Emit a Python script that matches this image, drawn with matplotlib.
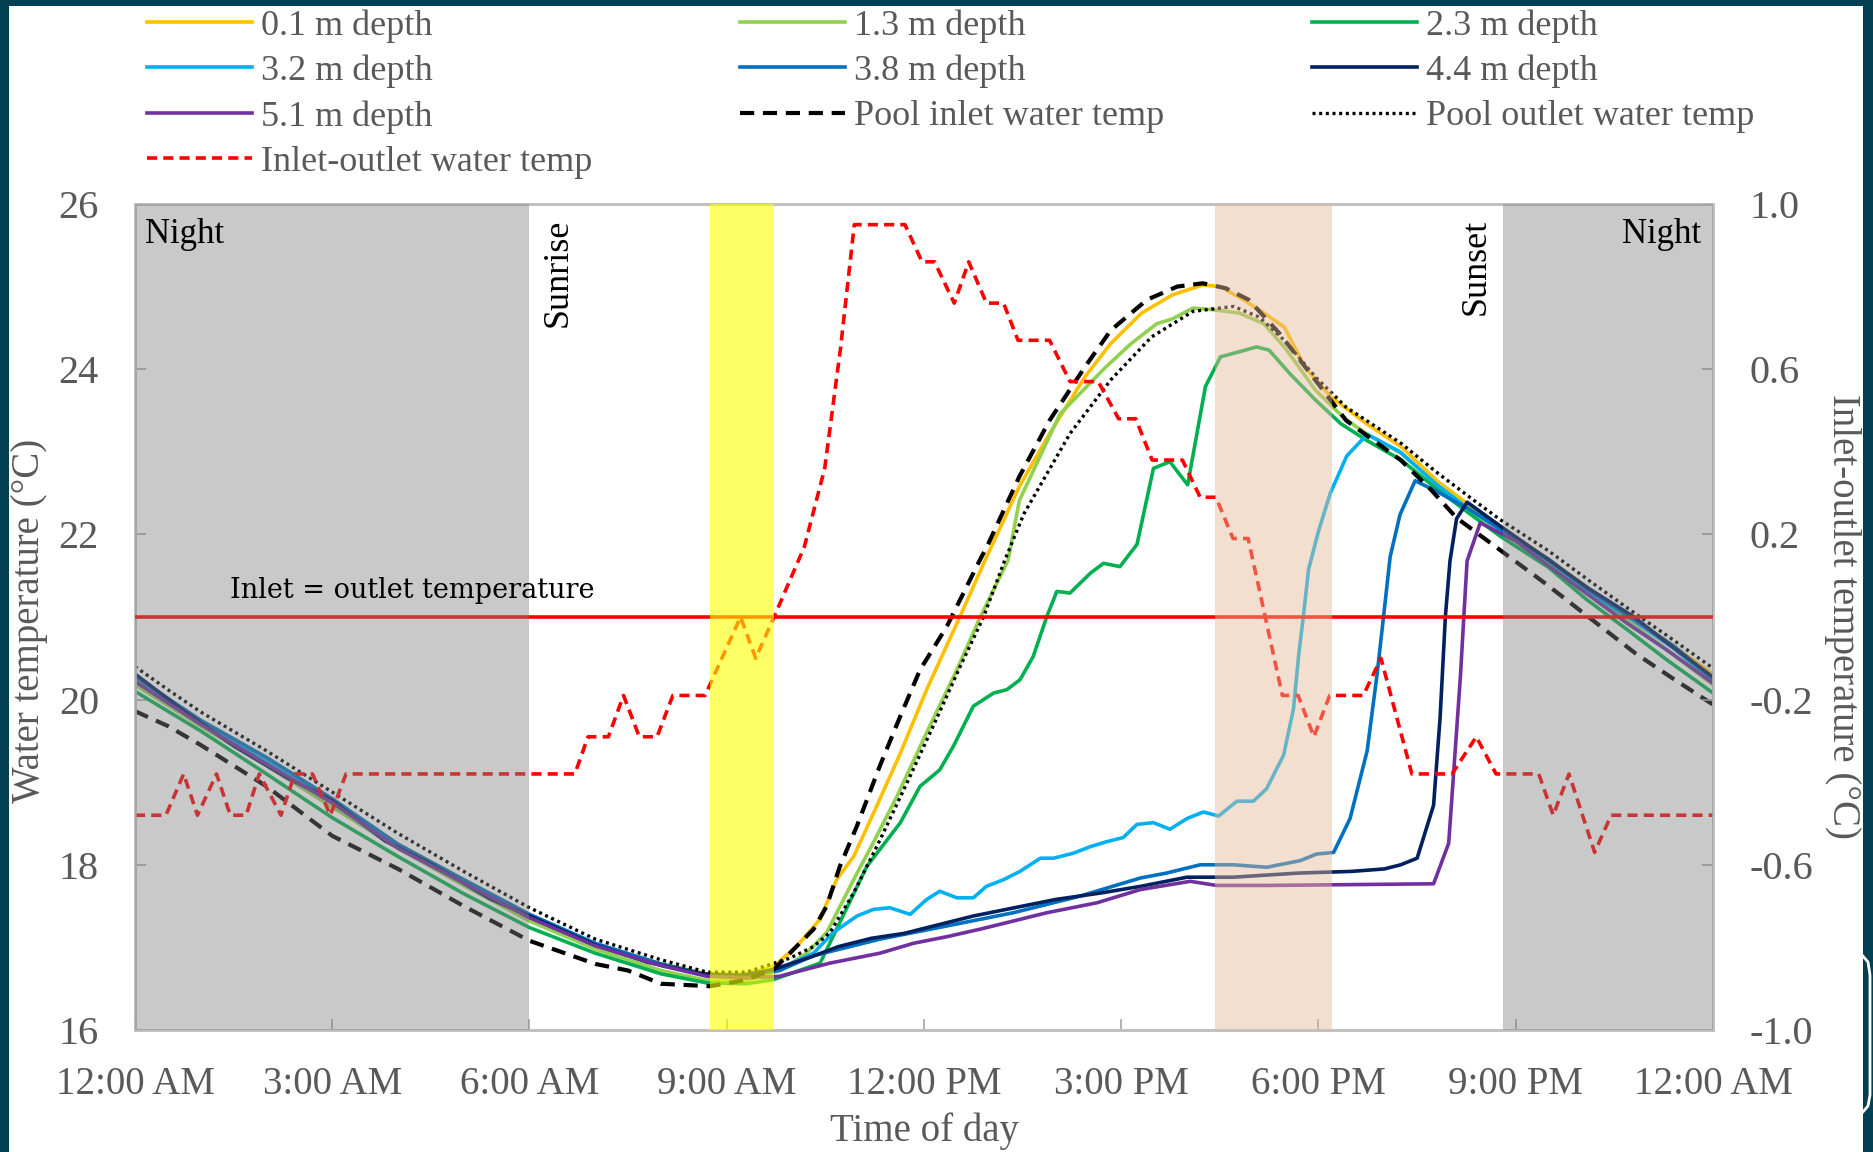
import matplotlib
matplotlib.use("Agg")
import matplotlib.pyplot as plt
from matplotlib.patches import Rectangle
from matplotlib.lines import Line2D

# ---- data (hours after midnight, water temperature in degC) ----
hour_ticks = [0, 3, 6, 9, 12, 15, 18, 21, 24]
hour_labels = ["12:00 AM", "3:00 AM", "6:00 AM", "9:00 AM", "12:00 PM",
               "3:00 PM", "6:00 PM", "9:00 PM", "12:00 AM"]

t_01 = [0, 1, 2, 3, 4, 5, 6, 7, 8, 8.7, 9.3, 9.71, 10.06, 10.42, 10.67, 10.93,
        11.28, 11.64, 12.04, 12.55, 12.93, 13.45, 13.91, 14.45, 14.84, 15.31,
        15.78, 16.24, 16.51, 16.86, 17.17, 17.48, 17.79, 18.18, 18.73, 19.26,
        19.8, 20.3, 20.8, 21.5, 22.1, 22.8, 23.4, 24.0]
T_01 = [20.25, 19.75, 19.28, 18.78, 18.25, 17.82, 17.4, 17.04, 16.8, 16.68,
        16.68, 16.77, 17.01, 17.34, 17.82, 18.1, 18.71, 19.35, 20.12, 21.01,
        21.69, 22.58, 23.22, 23.91, 24.31, 24.68, 24.9, 25.02, 25.0, 24.84,
        24.68, 24.51, 24.03, 23.67, 23.34, 23.06, 22.65, 22.35, 22.08, 21.7,
        21.35, 20.98, 20.65, 20.3]

t_13 = [0, 1, 2, 3, 4, 5, 6, 7, 8, 8.7, 9.3, 9.81, 10.2, 10.52, 10.93, 11.23,
        11.59, 12.04, 12.5, 12.85, 13.28, 13.45, 14.07, 14.77, 15.15, 15.54,
        15.78, 16.09, 16.4, 16.79, 17.17, 17.5, 17.95, 18.4, 18.73, 19.26,
        19.8, 20.3, 20.8, 21.5, 22.1, 22.7, 23.3, 24.0]
T_13 = [20.18, 19.68, 19.2, 18.7, 18.2, 17.75, 17.32, 16.98, 16.72, 16.6,
        16.6, 16.72, 16.92, 17.18, 17.82, 18.27, 18.83, 19.6, 20.36, 20.99,
        21.69, 22.41, 23.46, 24.03, 24.31, 24.55, 24.61, 24.74, 24.72, 24.68,
        24.55, 24.25, 23.75, 23.4, 23.22, 22.98, 22.6, 22.3, 22.02, 21.65,
        21.3, 20.95, 20.6, 20.18]

t_23 = [0, 1, 2, 3, 4, 5, 6, 7, 8, 8.7, 9.3, 9.71, 10.42, 10.67, 11.13, 11.64,
        11.94, 12.24, 12.45, 12.75, 13.06, 13.26, 13.46, 13.66, 13.87, 14.02,
        14.22, 14.53, 14.73, 14.98, 15.24, 15.49, 15.74, 16.01, 16.28, 16.51,
        16.79, 17.06, 17.25, 17.56, 17.95, 18.34, 18.73, 19.26, 19.8, 20.3,
        20.76, 21.5, 22.08, 22.69, 23.3, 24.0]
T_23 = [20.1, 19.62, 19.1, 18.57, 18.1, 17.65, 17.24, 16.93, 16.68, 16.57,
        16.56, 16.61, 16.81, 17.22, 17.98, 18.51, 18.95, 19.15, 19.44, 19.92,
        20.08, 20.12, 20.24, 20.52, 21.01, 21.31, 21.29, 21.53, 21.65, 21.61,
        21.88, 22.8, 22.88, 22.6, 23.79, 24.15, 24.21, 24.27, 24.23, 23.95,
        23.63, 23.34, 23.14, 22.9, 22.55, 22.25, 21.98, 21.6, 21.21, 20.85,
        20.48, 20.08]

t_32 = [0, 1, 2, 3, 4, 5, 6, 7, 8, 8.7, 9.3, 9.8, 10.32, 10.62, 10.98, 11.23,
        11.48, 11.79, 12.04, 12.24, 12.5, 12.75, 12.95, 13.21, 13.46, 13.77,
        13.97, 14.27, 14.53, 14.78, 15.03, 15.24, 15.49, 15.74, 16.0, 16.25,
        16.48, 16.76, 17.01, 17.21, 17.47, 17.62, 17.7, 17.77, 17.85, 18.0,
        18.18, 18.43, 18.74, 19.24, 19.8, 20.3, 20.8, 21.5, 22.1, 22.8, 23.4,
        24.0]
T_32 = [20.22, 19.72, 19.25, 18.76, 18.22, 17.8, 17.38, 17.03, 16.79, 16.66,
        16.66, 16.74, 16.93, 17.18, 17.38, 17.46, 17.48, 17.40, 17.58, 17.68,
        17.6, 17.6, 17.74, 17.82, 17.92, 18.08, 18.08, 18.14, 18.22, 18.28,
        18.33, 18.49, 18.51, 18.43, 18.56, 18.64, 18.59, 18.77, 18.77, 18.92,
        19.33, 19.89, 20.55, 21.01, 21.58, 22.04, 22.5, 22.95, 23.21, 23.0,
        22.6, 22.3, 22.04, 21.68, 21.3, 20.95, 20.62, 20.22]

t_38 = [0, 1, 2, 3, 4, 5, 6, 7, 8, 8.7, 9.3, 9.8, 10.32, 11.33, 12.35, 13.36,
        14.37, 15.29, 15.69, 16.2, 16.71, 17.21, 17.72, 17.97, 18.23, 18.48,
        18.74, 18.89, 18.99, 19.09, 19.24, 19.47, 19.8, 20.3, 20.8, 21.5,
        22.1, 22.8, 23.4, 24.0]
T_38 = [20.28, 19.75, 19.3, 18.8, 18.25, 17.82, 17.4, 17.05, 16.8, 16.67,
        16.66, 16.72, 16.9, 17.1, 17.26, 17.42, 17.62, 17.84, 17.9, 18.0,
        18.0, 17.97, 18.05, 18.13, 18.15, 18.56, 19.38, 20.3, 21.01, 21.73,
        22.24, 22.65, 22.52, 22.3, 22.05, 21.7, 21.33, 20.97, 20.65, 20.25]

t_44 = [0, 0.75, 1.5, 2.3, 3.0, 3.8, 4.5, 5.4, 6.0, 7.0, 7.8, 8.6, 9.2, 9.7,
        10.3, 10.7, 11.2, 11.7, 12.2, 12.75, 13.25, 14.0, 14.7, 15.3, 16.0,
        16.7, 17.7, 18.5, 19.0, 19.25, 19.5, 19.75, 19.85, 19.93, 20.0, 20.1,
        20.26, 20.8, 21.5, 22.1, 22.8, 23.2, 24.0]
T_44 = [20.31, 19.86, 19.44, 19.06, 18.78, 18.29, 18.01, 17.59, 17.38, 17.03,
        16.82, 16.68, 16.66, 16.73, 16.89, 17.01, 17.11, 17.17, 17.27, 17.38,
        17.46, 17.58, 17.66, 17.74, 17.85, 17.85, 17.9, 17.92, 17.95, 18.0,
        18.08, 18.72, 19.79, 21.01, 21.68, 22.19, 22.39, 22.08, 21.69, 21.35,
        21.0, 20.75, 20.27]

t_51 = [0, 1, 2, 3, 4, 5, 6, 7, 8, 8.7, 9.3, 9.8, 10.57, 11.33, 11.84, 12.35,
        12.85, 13.26, 13.87, 14.63, 15.29, 16.05, 16.45, 17.2, 19.75, 19.98,
        20.16, 20.21, 20.26, 20.46, 21.0, 21.5, 22.1, 22.7, 23.3, 24.0]
T_51 = [20.22, 19.7, 19.22, 18.75, 18.2, 17.78, 17.36, 17.02, 16.78, 16.65,
        16.63, 16.65, 16.81, 16.93, 17.05, 17.13, 17.22, 17.3, 17.42, 17.54,
        17.7, 17.8, 17.75, 17.75, 17.77, 18.26, 20.3, 21.0, 21.68, 22.14,
        21.92, 21.62, 21.27, 20.92, 20.6, 20.2]

t_in = [0, 0.5, 1, 2, 3, 4, 5, 6, 7, 7.5, 8, 8.75, 9.25, 9.71, 9.96, 10.32,
        10.52, 10.72, 10.98, 11.33, 11.64, 11.94, 12.35, 12.6, 12.85, 12.98,
        13.45, 13.91, 14.45, 14.84, 15.39, 15.85, 16.24, 16.59, 16.94, 17.41,
        17.95, 18.42, 18.73, 19.25, 19.7, 20.1, 20.78, 21.46, 22.14, 22.82,
        23.4, 24.0]
T_in = [19.86, 19.68, 19.45, 18.95, 18.35, 17.95, 17.5, 17.08, 16.8, 16.72,
        16.56, 16.53, 16.6, 16.73, 16.93, 17.22, 17.5, 17.98, 18.47, 19.2,
        19.8, 20.36, 20.89, 21.29, 21.69, 21.89, 22.7, 23.38, 24.03, 24.47,
        24.84, 25.0, 25.04, 24.98, 24.84, 24.43, 23.87, 23.38, 23.2, 22.9,
        22.55, 22.2, 21.8, 21.4, 20.98, 20.56, 20.25, 19.94]

t_out = [0, 0.5, 1, 2, 3, 4, 5, 6, 7, 8, 8.7, 9.3, 9.96, 10.32, 10.57, 10.93,
         11.33, 11.74, 12.14, 12.55, 12.9, 13.23, 13.52, 14.22, 14.84, 15.46,
         16.09, 16.71, 17.1, 17.48, 17.95, 18.42, 18.88, 19.26, 19.8, 20.3,
         20.76, 21.5, 22.1, 22.82, 23.4, 24.0]
T_out = [20.4, 20.12, 19.85, 19.38, 18.88, 18.38, 17.92, 17.48, 17.1, 16.85,
         16.7, 16.7, 16.87, 17.01, 17.18, 17.66, 18.3, 18.99, 19.68, 20.4,
         20.99, 21.69, 22.25, 23.22, 23.87, 24.39, 24.7, 24.76, 24.63, 24.35,
         23.91, 23.54, 23.3, 23.1, 22.75, 22.45, 22.18, 21.8, 21.45, 21.04,
         20.72, 20.38]

# inlet minus outlet (right axis)
t_diff = [0, 0.47, 0.74, 0.95, 1.24, 1.45, 1.69, 1.89, 2.22, 2.43, 2.70, 2.97,
          3.21, 6.69, 6.89, 7.2, 7.43, 7.67, 7.94, 8.18, 8.67, 9.21, 9.44,
          9.72, 10.18, 10.49, 10.73, 10.94, 11.71, 11.97, 12.16, 12.46, 12.68,
          12.95, 13.21, 13.43, 13.91, 14.22, 14.65, 14.96, 15.22, 15.47, 15.93,
          16.2, 16.44, 16.7, 16.93, 17.45, 17.69, 17.93, 18.17, 18.68, 18.95,
          19.42, 20.03, 20.4, 20.7, 21.35, 21.57, 21.81, 22.2, 22.45, 24.0]
d_diff = [-0.48, -0.48, -0.38, -0.48, -0.38, -0.48, -0.48, -0.38, -0.48,
          -0.38, -0.38, -0.48, -0.38, -0.38, -0.29, -0.29, -0.19, -0.29, -0.29,
          -0.19, -0.19, 0.0, -0.1, 0.0, 0.17, 0.36, 0.65, 0.95, 0.95, 0.86,
          0.86, 0.76, 0.86, 0.76, 0.76, 0.67, 0.67, 0.57, 0.57, 0.48, 0.48,
          0.38, 0.38, 0.29, 0.29, 0.19, 0.19, -0.19, -0.19, -0.29, -0.19,
          -0.19, -0.1, -0.38, -0.38, -0.29, -0.38, -0.38, -0.48, -0.38, -0.57,
          -0.48, -0.48]

night_periods = [(0, 6.0), (20.8, 24)]
sunrise_span = (8.75, 9.72)
sunset_span = (16.42, 18.2)

GRAY = "#595959"
SERIF = "Liberation Serif"

fig = plt.figure(figsize=(18.74, 11.52), dpi=100, facecolor="#033f52")
fig.add_artist(Rectangle((9 / 1874, 0), 1854 / 1874, 1146 / 1152,
                         transform=fig.transFigure, facecolor="white",
                         edgecolor="none", zorder=-5))
# small white bracket on the right edge
fig.add_artist(Line2D(
    [1862 / 1874, 1868 / 1874, 1870 / 1874, 1870 / 1874, 1868 / 1874, 1862 / 1874],
    [1 - 955 / 1152, 1 - 962 / 1152, 1 - 975 / 1152, 1 - 1095 / 1152,
     1 - 1106 / 1152, 1 - 1113 / 1152],
    transform=fig.transFigure, color="white", lw=2))

ax = fig.add_axes([135 / 1874, 1 - 1030 / 1152, 1578 / 1874, 826 / 1152])
ax2 = ax.twinx()
ax.set_zorder(1)
ax2.set_zorder(2)
ax2.patch.set_visible(False)

series = [
    (t_01, T_01, "0.1 m depth", dict(color="#ffc000")),
    (t_13, T_13, "1.3 m depth", dict(color="#92d050")),
    (t_23, T_23, "2.3 m depth", dict(color="#00b050")),
    (t_32, T_32, "3.2 m depth", dict(color="#00b0f0")),
    (t_38, T_38, "3.8 m depth", dict(color="#0070c0")),
    (t_44, T_44, "4.4 m depth", dict(color="#002060")),
    (t_51, T_51, "5.1 m depth", dict(color="#7030a0")),
]
handles = {}
for t, T, name, st in series:
    handles[name], = ax.plot(t, T, lw=2.6, label=name, **st)
handles["Pool inlet water temp"], = ax.plot(
    t_in, T_in, color="black", lw=3.0, dashes=(3.4, 2.1),
    label="Pool inlet water temp")
handles["Pool outlet water temp"], = ax.plot(
    t_out, T_out, color="black", lw=2.4, dashes=(0.9, 1.1),
    label="Pool outlet water temp")

handles["Inlet-outlet water temp"], = ax2.plot(
    t_diff, d_diff, color="#ff0000", lw=2.6, dashes=(2.8, 1.7), zorder=2,
    label="Inlet-outlet water temp")
ax2.axhline(0, color="#ff0000", lw=2.6, zorder=3)

# shaded periods, drawn over the lines like the original
for a, b in night_periods:
    ax2.axvspan(a, b, facecolor="#7f7f7f", alpha=0.42, lw=0, zorder=5)
ax2.axvspan(*sunrise_span, facecolor="#ffff00", alpha=0.6, lw=0, zorder=5)
ax2.axvspan(*sunset_span, facecolor="#e6b996", alpha=0.45, lw=0, zorder=5)

ax.set_xlim(0, 24)
ax.set_ylim(16, 26)
ax2.set_ylim(-1, 1)
ax.set_xticks(hour_ticks)
ax.set_xticklabels(hour_labels)
ax.set_yticks([16, 18, 20, 22, 24, 26])
ax2.set_yticks([-1.0, -0.6, -0.2, 0.2, 0.6, 1.0])
ax2.set_yticklabels(["-1.0", "-0.6", "-0.2", "0.2", "0.6", "1.0"])

ax.tick_params(axis="x", direction="in", length=8, width=1.2, color="#a6a6a6",
               pad=26, labelsize=28, labelcolor=GRAY)
ax.tick_params(axis="y", direction="in", length=8, width=1.2, color="#a6a6a6",
               pad=26, labelsize=29, labelcolor=GRAY)
ax2.tick_params(axis="y", direction="in", length=8, width=1.2, color="#a6a6a6",
                pad=26, labelsize=29, labelcolor=GRAY)
for lab in ax.get_xticklabels() + ax.get_yticklabels() + ax2.get_yticklabels():
    lab.set_family(SERIF)

for a in (ax, ax2):
    for sp in a.spines.values():
        sp.set_color("#bfbfbf")
        sp.set_linewidth(1.8)

ax.set_ylabel("Water temperature (\u00b0C)", family=SERIF, fontsize=28,
              color=GRAY, va="center")
ax.yaxis.set_label_coords(-0.067, 0.495)
ax2.set_ylabel("Inlet-outlet temperature (\u00b0C)", family=SERIF, fontsize=28,
               color=GRAY, rotation=270, va="center")
ax2.yaxis.set_label_coords(1.082, 0.5)
ax.set_xlabel("Time of day", family=SERIF, fontsize=28, color=GRAY,
              va="center")
ax.xaxis.set_label_coords(0.5, -0.122)

# annotations
ax2.text(0.15, 0.925, "Night", family=SERIF, fontsize=25, color="black",
         ha="left", va="center", zorder=10)
ax2.text(23.82, 0.925, "Night", family=SERIF, fontsize=25, color="black",
         ha="right", va="center", zorder=10)
ax2.text(6.44, 0.965, "Sunrise", family=SERIF, fontsize=26, color="black",
         rotation=90, ha="center", va="top", zorder=10)
ax2.text(20.4, 0.965, "Sunset", family=SERIF, fontsize=26, color="black",
         rotation=90, ha="center", va="top", zorder=10)
ax2.text(1.45, 0.065, "Inlet = outlet temperature", family="DejaVu Serif",
         fontsize=19.5, color="black", ha="left", va="center", zorder=10)

# legend: three columns, filled row by row in the original
order = ["0.1 m depth", "3.2 m depth", "5.1 m depth", "Inlet-outlet water temp",
         "1.3 m depth", "3.8 m depth", "Pool inlet water temp",
         "2.3 m depth", "4.4 m depth", "Pool outlet water temp"]
leg = fig.legend([handles[k] for k in order], order, ncol=3, loc="upper left",
                 bbox_to_anchor=(147 / 1874, 0.992), frameon=False,
                 prop={"family": SERIF, "size": 26}, handlelength=2.9,
                 handletextpad=0.25, columnspacing=4.1, labelspacing=0.33,
                 borderaxespad=0, borderpad=0)
for txt in leg.get_texts():
    txt.set_color(GRAY)

fig.savefig("out.png", dpi=100, facecolor=fig.get_facecolor())
